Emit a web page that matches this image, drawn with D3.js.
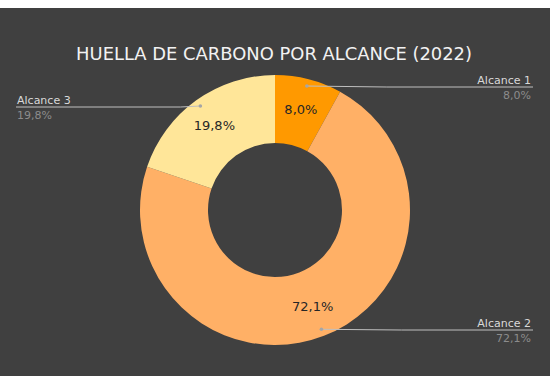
<!DOCTYPE html>
<html>
<head>
<meta charset="utf-8">
<script src="https://cdn.jsdelivr.net/npm/d3@7"></script>
<style>
  body { margin: 0; background: #fff; }
  svg { display: block; font-family: "DejaVu Sans", Verdana, sans-serif; }
</style>
</head>
<body>
<script>
// chart data
const categories = ['Alcance 1', 'Alcance 2', 'Alcance 3'];
const shares = [8.0, 72.1, 19.8];
const sliceColors = ['#ff9900', '#ffb066', '#ffe699'];
const titleText = 'HUELLA DE CARBONO POR ALCANCE (2022)';

const W = 550, H = 387;
const cx = 275, cy = 210;
const R_OUT = 135, R_IN = 67;

const fmt = v => d3.format('.1f')(v).replace('.', ',') + '%';

const svg = d3.select('body').append('svg')
  .attr('width', W)
  .attr('height', H);

// dark panel
svg.append('rect')
  .attr('x', 0).attr('y', 8)
  .attr('width', W).attr('height', 368)
  .attr('fill', '#404040');

// title, fitted to its width in the picture
const title = svg.append('text')
  .attr('x', 274).attr('y', 60)
  .attr('text-anchor', 'middle')
  .attr('fill', '#f2f2f2')
  .style('font-size', '18px')
  .text(titleText);
const tw = title.node().getComputedTextLength();
title.style('font-size', (18 * 396 / tw).toFixed(2) + 'px');

const pie = d3.pie().sort(null).value(d => d.value);
const arcs = pie(categories.map((c, i) => ({ name: c, value: shares[i], color: sliceColors[i] })));

const arc = d3.arc().innerRadius(R_IN).outerRadius(R_OUT);
const labelArc = d3.arc().innerRadius(104).outerRadius(104);
const dotArc = d3.arc().innerRadius(128).outerRadius(128);

const g = svg.append('g').attr('transform', 'translate(' + cx + ',' + cy + ')');

g.selectAll('path.slice')
  .data(arcs)
  .enter()
  .append('path')
  .attr('class', 'slice')
  .attr('d', arc)
  .attr('fill', d => d.data.color);

// values inside the ring
g.selectAll('text.inner')
  .data(arcs)
  .enter()
  .append('text')
  .attr('class', 'inner')
  .attr('transform', d => 'translate(' + labelArc.centroid(d) + ')')
  .attr('text-anchor', 'middle')
  .attr('dy', '0.35em')
  .attr('fill', '#262626')
  .style('font-size', '13px')
  .text(d => fmt(d.data.value));

// leader lines with outside labels
const LEFT_X = 16, RIGHT_X = 533;

arcs.forEach(d => {
  const p = dotArc.centroid(d);
  const mid = (d.startAngle + d.endAngle) / 2;
  const right = Math.sin(mid) > 0;
  const px = cx + p[0], py = cy + p[1];
  const endX = right ? RIGHT_X : LEFT_X;
  const lineY = Math.round(py) + (right ? 1 : 1);

  svg.append('polyline')
    .attr('points', [[px, py], [right ? px + 80 : px - 20, lineY], [endX, lineY]].map(q => q.join(',')).join(' '))
    .attr('fill', 'none')
    .attr('stroke', '#bfbfbf')
    .attr('stroke-width', 1);

  svg.append('circle')
    .attr('cx', px).attr('cy', py).attr('r', 1.8)
    .attr('fill', '#a6a6a6');

  const tx = right ? RIGHT_X - 2 : LEFT_X + 1;
  const anchor = right ? 'end' : 'start';

  svg.append('text')
    .attr('x', tx).attr('y', lineY - 3)
    .attr('text-anchor', anchor)
    .attr('fill', '#d9d9d9')
    .style('font-size', '11px')
    .text(d.data.name);

  svg.append('text')
    .attr('x', tx).attr('y', lineY + 12)
    .attr('text-anchor', anchor)
    .attr('fill', '#8c8c8c')
    .style('font-size', '11px')
    .text(fmt(d.data.value));
});
</script>
</body>
</html>
